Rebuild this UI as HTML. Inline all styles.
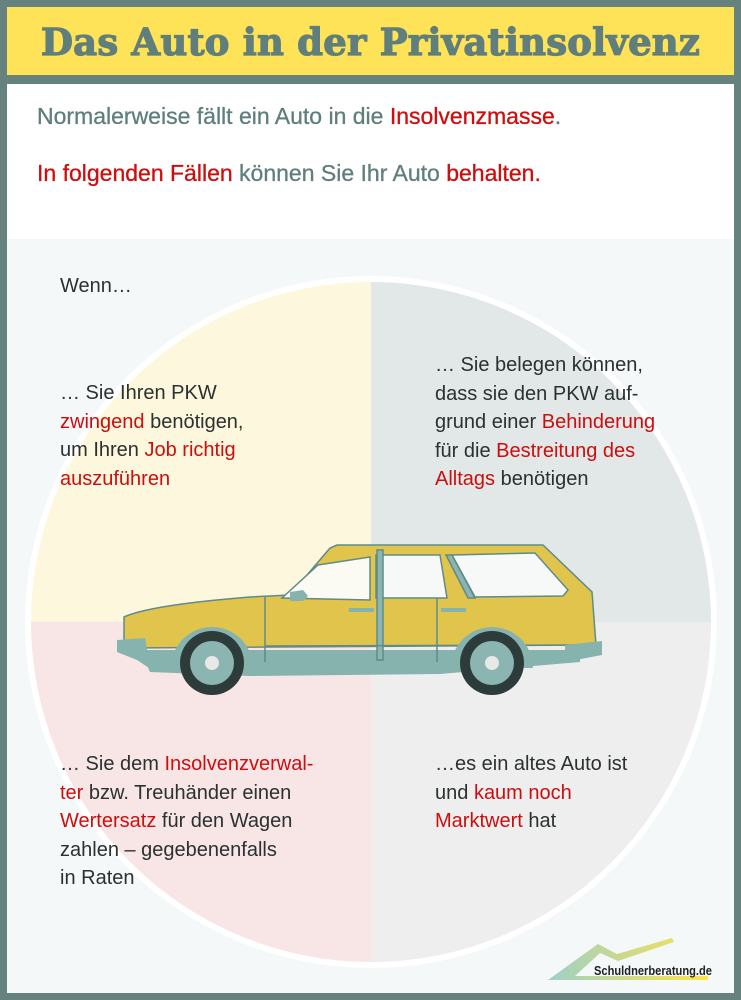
<!DOCTYPE html>
<html><head><meta charset="utf-8"><style>
*{margin:0;padding:0;box-sizing:border-box}
body{width:741px;height:1000px;background:#66827f;position:relative;overflow:hidden;font-family:"Liberation Sans",Arial,sans-serif}
#title{position:absolute;left:7px;top:7px;width:727px;height:68px;background:#fee358;text-align:center;font-family:"DejaVu Serif",serif;font-weight:bold;font-size:37px;color:#5f7e7c;line-height:70px;letter-spacing:0.2px;-webkit-text-stroke:1.2px #5f7e7c}
#white{position:absolute;left:7px;top:84px;width:727px;height:155px;background:#fff}
#bg{position:absolute;left:7px;top:239px;width:727px;height:754px;background:#f4f8f8}
.h{position:absolute;left:37px;font-size:23px;color:#5f7e7c;-webkit-text-stroke:0.3px currentColor;white-space:nowrap}
.r{color:#cc0e0e}
.t{position:absolute;font-size:20px;line-height:28.5px;color:#2b3030;white-space:nowrap}
svg{position:absolute;left:0;top:0}
</style></head><body>
<div id="title">Das Auto in der Privatinsolvenz</div>
<div id="white"></div>
<div id="bg"></div>
<div class="h" style="top:103px">Normalerweise fällt ein Auto in die <span class="r">Insolvenzmasse</span>.</div>
<div class="h" style="top:160px"><span class="r">In folgenden Fällen</span> können Sie Ihr Auto <span class="r">behalten.</span></div>
<svg width="741" height="1000" viewBox="0 0 741 1000">
<defs><clipPath id="c"><circle cx="371" cy="622" r="340"/></clipPath>
<linearGradient id="lg" x1="0" x2="1"><stop offset="0" stop-color="#9fd0c6"/><stop offset="1" stop-color="#fde34c"/></linearGradient></defs>
<circle cx="371" cy="622" r="346" fill="#fff"/>
<g clip-path="url(#c)">
<rect x="0" y="250" width="371" height="372" fill="#fdf8dd"/>
<rect x="371" y="250" width="370" height="372" fill="#e2e7e7"/>
<rect x="0" y="622" width="371" height="372" fill="#f8e6e6"/>
<rect x="371" y="622" width="370" height="372" fill="#eeeeee"/>
</g>
<!-- car -->
<path d="M140,650 L150,672 L250,676 L440,674 L580,662 L580,650 Z" fill="#87b3ae"/>
<g stroke="#5f8b89" stroke-width="1.5">
<path d="M124,617 Q150,605 250,597 L290,595 L330,548 L337,545 L543,545 L592,592 L596,645 L124,648 Z" fill="#e1c44c"/>
<path d="M282,598 L318,565 L370,557 L370,600 Z" fill="#fbfbf3"/>
<path d="M376,555 L440,555 L447,598 L376,598 Z" fill="#f7f9f9"/>
<path d="M452,555 L535,553 L568,590 L563,596 L475,597 Z" fill="#f7f9f9"/>
<path d="M446,555 L452,555 L475,598 L468,598 Z" fill="#8ab5b1"/>
<path d="M377,550 L383,550 L383,660 L377,660 Z" fill="#8ab5b1"/>
<path d="M265,597 L265,662 M437,598 L437,662 M265,646 L595,645"/>
</g>
<path d="M117,640 L145,638 L148,655 L175,655 L175,665 L155,672 L137,660 L117,652 Z" fill="#87b3ae"/>
<path d="M565,645 L602,641 L602,655 L565,662 Z" fill="#87b3ae"/>
<path d="M171,668 A41,41 0 0 1 253,668 Z" fill="#87b3ae"/>
<path d="M451,668 A41,41 0 0 1 533,668 Z" fill="#87b3ae"/>
<path d="M290,592 L303,590 L308,596 L303,601 L290,601 Z" fill="#87b3ae"/>
<rect x="349" y="608" width="25" height="4" fill="#87b3ae"/><rect x="441" y="608" width="25" height="4" fill="#87b3ae"/>
<circle cx="212" cy="663" r="32" fill="#2d3b3a"/><circle cx="212" cy="663" r="22" fill="#8ab5b1"/><circle cx="212" cy="663" r="7" fill="#e8e8e8"/>
<circle cx="492" cy="663" r="32" fill="#2d3b3a"/><circle cx="492" cy="663" r="22" fill="#8ab5b1"/><circle cx="492" cy="663" r="7" fill="#e8e8e8"/>
<!-- logo -->
<path d="M548,980 L598,944 L617,954 L672,938 L674,942 L618,961 L600,953 L575,976 L708,976 L708,980 Z" fill="url(#lg)"/>
<text x="594" y="975" textLength="118" lengthAdjust="spacingAndGlyphs" font-family="Liberation Sans,sans-serif" font-size="13" font-weight="bold" fill="#222">Schuldnerberatung.de</text>
</svg>
<div class="t" style="left:60px;top:272px">Wenn…</div>
<div class="t" style="left:60px;top:379px">… Sie Ihren PKW<br><span class="r">zwingend</span> benötigen,<br>um Ihren <span class="r">Job richtig<br>auszuführen</span></div>
<div class="t" style="left:435px;top:351px">… Sie belegen können,<br>dass sie den PKW auf-<br>grund einer <span class="r">Behinderung</span><br>für die <span class="r">Bestreitung des<br>Alltags</span> benötigen</div>
<div class="t" style="left:60px;top:750px">… Sie dem <span class="r">Insolvenzverwal-<br>ter</span> bzw. Treuhänder einen<br><span class="r">Wertersatz</span> für den Wagen<br>zahlen – gegebenenfalls<br>in Raten</div>
<div class="t" style="left:435px;top:750px">…es ein altes Auto ist<br>und <span class="r">kaum noch<br>Marktwert</span> hat</div>
</body></html>
